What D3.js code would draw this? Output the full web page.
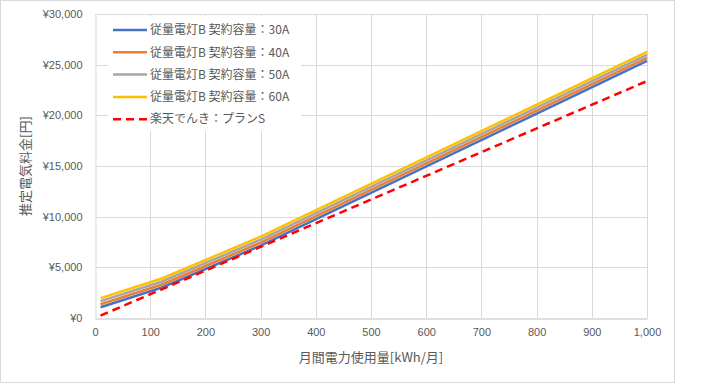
<!DOCTYPE html>
<html>
<head>
<meta charset="utf-8">
<script src="https://cdn.jsdelivr.net/npm/d3@7"></script>
<style>
  body { margin: 0; background: #fff; }
  svg { display: block; font-family: "Noto Sans CJK JP", "Noto Sans", sans-serif; }
  .tick text { fill: #595959; font-size: 11px; }
</style>
</head>
<body>
<svg width="720" height="384"></svg>
<script>
// usage (kWh / month) at which the values were read
const usage = [10, 120, 300, 1000];

const seriesNames = [
  "従量電灯B 契約容量：30A",
  "従量電灯B 契約容量：40A",
  "従量電灯B 契約容量：50A",
  "従量電灯B 契約容量：60A",
  "楽天でんき：プランS",
];

// yen
const amp30 = [1066, 2986, 7137, 25379];
const amp40 = [1363, 3283, 7434, 25676];
const amp50 = [1660, 3580, 7731, 25973];
const amp60 = [1957, 3877, 8028, 26270];
const planS = [234, 2806, 7014, 23380];

const xTicks = [0, 100, 200, 300, 400, 500, 600, 700, 800, 900, 1000];
const yTicks = [0, 5000, 10000, 15000, 20000, 25000, 30000];

const colors = ["#4472C4", "#ED7D31", "#A5A5A5", "#FFC000", "#FF0000"];

const series = [amp30, amp40, amp50, amp60, planS].map((vals, i) => ({
  name: seriesNames[i],
  color: colors[i],
  dashed: i == 4,
  points: vals.map((v, j) => ({ x: usage[j], y: v })),
}));

const svg = d3.select("svg");

// chart area border
svg
  .append("rect")
  .attr("x", 0.5)
  .attr("y", 0.5)
  .attr("width", 674)
  .attr("height", 382)
  .attr("fill", "#fff")
  .attr("stroke", "#D9D9D9");

const x = d3.scaleLinear().domain([0, 1000]).range([95, 647]);
const y = d3.scaleLinear().domain([0, 30000]).range([318, 14]);

// gridlines
const grid = svg.append("g").attr("stroke", "#D9D9D9").attr("stroke-width", 1);
grid
  .selectAll("line.h")
  .data(yTicks.slice(1))
  .join("line")
  .attr("x1", x(0))
  .attr("x2", x(1000))
  .attr("y1", (d) => Math.round(y(d)) + 0.5)
  .attr("y2", (d) => Math.round(y(d)) + 0.5);
grid
  .selectAll("line.v")
  .data(xTicks.slice(1))
  .join("line")
  .attr("x1", (d) => Math.round(x(d)) + 0.5)
  .attr("x2", (d) => Math.round(x(d)) + 0.5)
  .attr("y1", y(30000))
  .attr("y2", y(0));

// axes
const xAxis = svg
  .append("g")
  .attr("transform", `translate(0,${Math.round(y(0)) + 0.5})`)
  .call(
    d3.axisBottom(x).tickValues(xTicks).tickFormat(d3.format(",")).tickSize(0).tickPadding(10)
  );
xAxis.select(".domain").attr("stroke", "#BFBFBF");

const yAxis = svg
  .append("g")
  .attr("transform", `translate(${Math.round(x(0)) + 0.5},0)`)
  .call(
    d3
      .axisLeft(y)
      .tickValues(yTicks)
      .tickFormat((d) => "¥" + d3.format(",")(d))
      .tickSize(0)
      .tickPadding(13)
  );
yAxis.select(".domain").attr("stroke", "#D9D9D9");

// lines
const line = d3
  .line()
  .x((d) => x(d.x))
  .y((d) => y(d.y));

svg
  .append("g")
  .selectAll("path")
  .data(series)
  .join("path")
  .attr("d", (d) => line(d.points))
  .attr("fill", "none")
  .attr("stroke", (d) => d.color)
  .attr("stroke-width", 2.5)
  .attr("stroke-dasharray", (d) => (d.dashed ? "8,5" : null));

// legend
const legend = svg.append("g");
legend
  .append("rect")
  .attr("x", 108)
  .attr("y", 16)
  .attr("width", 193)
  .attr("height", 115)
  .attr("fill", "#fff");

const item = legend
  .selectAll("g")
  .data(series)
  .join("g")
  .attr("transform", (d, i) => `translate(0,${30 + i * 22.3})`);
item
  .append("line")
  .attr("x1", 113)
  .attr("x2", 147)
  .attr("stroke", (d) => d.color)
  .attr("stroke-width", 2.5)
  .attr("stroke-dasharray", (d) => (d.dashed ? "8,5" : null));
item
  .append("text")
  .attr("x", 150)
  .attr("dy", "0.35em")
  .attr("fill", "#595959")
  .attr("font-size", 12)
  .text((d) => d.name);

// axis titles
svg
  .append("text")
  .attr("x", (x(0) + x(1000)) / 2)
  .attr("y", 357)
  .attr("dy", "0.35em")
  .attr("text-anchor", "middle")
  .attr("fill", "#595959")
  .attr("font-size", 13)
  .text("月間電力使用量[kWh/月]");

svg
  .append("text")
  .attr("transform", `translate(25,${(y(0) + y(30000)) / 2}) rotate(-90)`)
  .attr("dy", "0.35em")
  .attr("text-anchor", "middle")
  .attr("fill", "#595959")
  .attr("font-size", 13)
  .text("推定電気料金[円]");
</script>
</body>
</html>
